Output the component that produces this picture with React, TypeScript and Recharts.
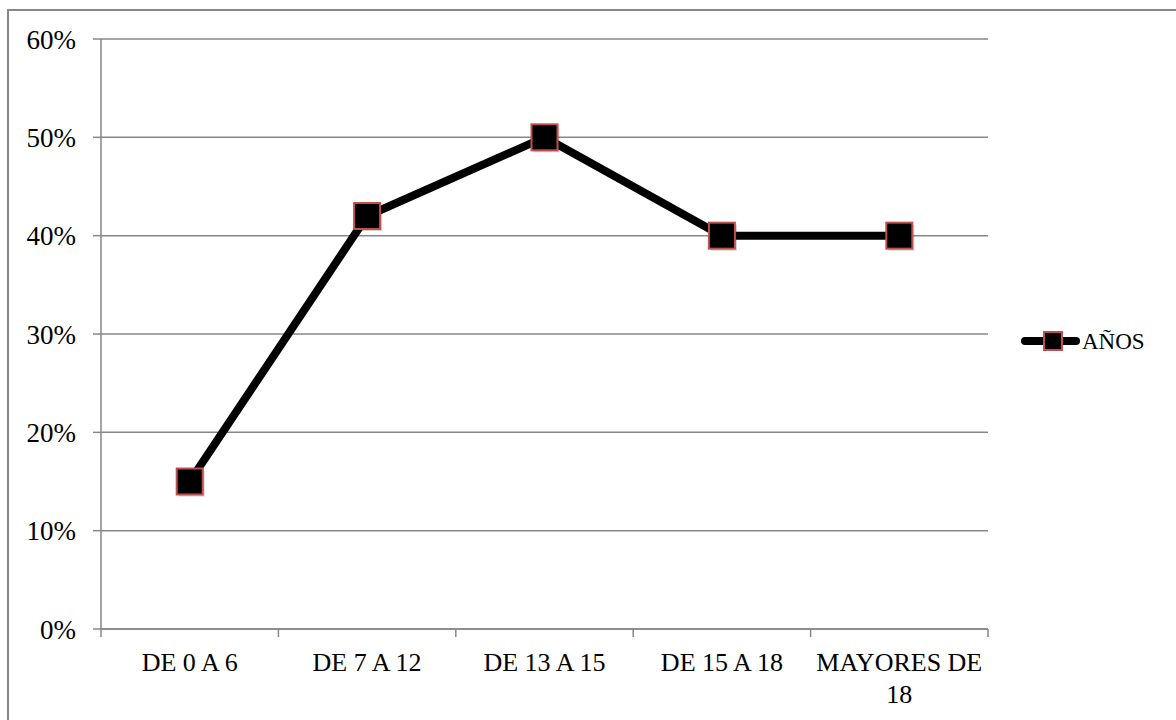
import React from "react";
import { LineChart, Line, XAxis, YAxis, CartesianGrid, Legend } from "recharts";

const categories = ["DE 0 A 6", "DE 7 A 12", "DE 13 A 15", "DE 15 A 18", "MAYORES DE 18"];
const anos = [0.15, 0.42, 0.5, 0.4, 0.4];
const yTicks = [0, 0.1, 0.2, 0.3, 0.4, 0.5, 0.6];
const seriesName = "AÑOS";

// each category sits in the middle of its slot; whole numbers are the slot edges
const data = categories.map((c, i) => ({ pos: i + 0.5, name: c, value: anos[i] }));
const xTicks: number[] = [];
for (let i = 0; i <= categories.length * 2; i++) xTicks.push(i / 2);

const FONT = "'Liberation Serif', 'DejaVu Serif', serif";
const GRAY = "#878787";
const MARKER_EDGE = "#c0504d";

const SquareDot = (props: any) => {
  const { cx, cy } = props;
  if (cx == null || cy == null) return null;
  const s = 26;
  return (
    <g>
      <rect x={cx - s / 2 + 2} y={cy - s / 2 + 2} width={s} height={s} fill="rgba(0,0,0,0.18)" />
      <rect x={cx - s / 2} y={cy - s / 2} width={s} height={s} fill="#000" stroke={MARKER_EDGE} strokeWidth={2} />
    </g>
  );
};

// edges get a tick mark, slot centres get the category label
const CategoryTick = (props: any) => {
  const { x, y, payload } = props;
  const v = payload.value as number;
  if (Number.isInteger(v)) {
    return <line x1={x} y1={629} x2={x} y2={637} stroke={GRAY} strokeWidth={1.5} />;
  }
  const label = categories[Math.floor(v)] ?? "";
  const words = label.split(" ");
  const lines = label.length > 11 ? [words.slice(0, -1).join(" "), words[words.length - 1]] : [label];
  return (
    <text x={x} y={y} textAnchor="middle" style={{ fontFamily: FONT }} fontSize={26} fill="#000">
      {lines.map((l, i) => (
        <tspan key={i} x={x} dy={i === 0 ? 34 : 32}>
          {l}
        </tspan>
      ))}
    </text>
  );
};

const LegendContent = () => (
  <svg width={140} height={30}>
    <line x1={7} y1={15} x2={58} y2={15} stroke="#000" strokeWidth={8} strokeLinecap="round" />
    <rect x={26} y={6} width={18} height={18} fill="#000" stroke={MARKER_EDGE} strokeWidth={2} />
    <text x={64} y={23} style={{ fontFamily: FONT }} fontSize={23} fill="#000">
      {seriesName}
    </text>
  </svg>
);

export default function App() {
  return (
    <div style={{ position: "fixed", left: 0, top: 0, width: 1176, height: 720, overflow: "hidden", background: "#fff" }}>
      <div
        style={{
          position: "absolute",
          left: 7,
          top: 9,
          width: 1300,
          height: 900,
          borderLeft: `2px solid ${GRAY}`,
          borderTop: `2px solid ${GRAY}`,
        }}
      />
      <div style={{ position: "absolute", left: 0, top: 0 }}>
        <LineChart width={1176} height={720} data={data} margin={{ top: 39, right: 188, bottom: 0, left: 0 }}>
          <CartesianGrid vertical={false} stroke={GRAY} strokeWidth={1.5} />
          <XAxis
            dataKey="pos"
            type="number"
            domain={[0, categories.length]}
            ticks={xTicks}
            interval={0}
            tick={<CategoryTick />}
            tickLine={false}
            stroke={GRAY}
            strokeWidth={1.5}
            height={91}
          />
          <YAxis
            type="number"
            domain={[0, 0.6]}
            ticks={yTicks}
            width={101}
            tickSize={8}
            tickMargin={17}
            stroke={GRAY}
            strokeWidth={1.5}
            tickFormatter={(v: number) => `${Math.round(v * 100)}%`}
            tick={{ fill: "#000", fontFamily: FONT, fontSize: 27 }}
          />
          <Legend
            layout="vertical"
            align="center"
            verticalAlign="middle"
            content={<LegendContent />}
            wrapperStyle={{ left: 1018, top: 326, width: 140 }}
          />
          <Line
            dataKey="value"
            name={seriesName}
            stroke="#000"
            strokeWidth={8}
            strokeLinejoin="round"
            dot={<SquareDot />}
            activeDot={false}
            isAnimationActive={false}
          />
        </LineChart>
      </div>
    </div>
  );
}
